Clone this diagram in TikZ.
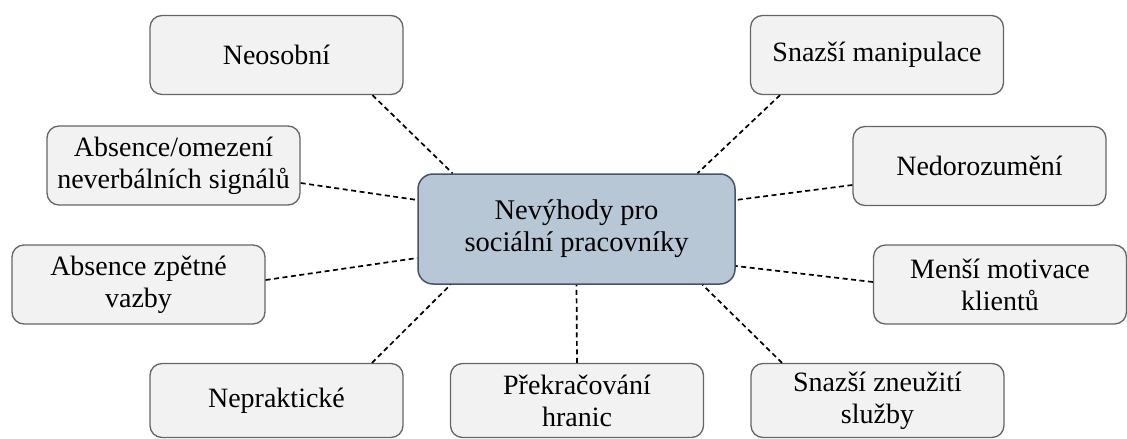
\documentclass[tikz,border=0pt]{standalone}
\usepackage{fontspec}
\setmainfont{Liberation Serif}
\definecolor{hubfill}{HTML}{B8C7D5}
\definecolor{hubline}{HTML}{44546A}
\definecolor{boxfill}{HTML}{F2F2F2}
\definecolor{boxline}{HTML}{666666}
\tikzset{
  box/.style={draw=boxline,fill=boxfill,line width=1.3pt,rounded corners=12pt,
    minimum width=253pt,minimum height=79pt,inner sep=0pt,align=center,
    font=\fontsize{28}{32}\selectfont},
  lowbox/.style={box,minimum height=74pt},
  hub/.style={draw=hubline,fill=hubfill,line width=1.5pt,rounded corners=15pt,
    minimum width=317pt,minimum height=110pt,inner sep=0pt,align=center,
    font=\fontsize{28.5}{32}\selectfont},
  link/.style={line width=1.7pt,dash pattern=on 5pt off 3.5pt}
}
\begin{document}
\begin{tikzpicture}[x=1pt,y=-1pt]
\useasboundingbox (0,0) rectangle (1127,439);
% the central box
\node[hub] (ctr) at (576.5,229) {Nevýhody pro\\sociální pracovníky};
% the boxes round it
\node[box] (neo) at (276.5,55) {Neosobní};
\node[box] (absom) at (173.5,165.5) {Absence/omezení\\neverbálních signálů};
\node[box] (zpet) at (138.5,284.5) {Absence zpětné\\vazby};
\node[lowbox] (neprak) at (276.5,400.5) {Nepraktické};
\node[lowbox] (prek) at (577,400.5) {Překračování\\hranic};
\node[lowbox] (zneuz) at (877.5,400.5) {Snazší zneužití\\služby};
\node[box] (motiv) at (1000,284.5) {Menší motivace\\klientů};
\node[box] (nedor) at (979.5,166) {Nedorozumění};
\node[box] (manip) at (877,55) {Snazší manipulace};
% the dashed links
\draw[link] ([xshift=96pt]neo.south) -- ([xshift=-124pt]ctr.north);
\draw[link] ([yshift=-17.5pt]absom.east) -- ([yshift=29pt]ctr.west);
\draw[link] ([yshift=4.5pt]zpet.east) -- ([yshift=-29pt]ctr.west);
\draw[link] ([xshift=95.5pt]neprak.north) -- ([xshift=-126pt]ctr.south);
\draw[link] (prek.north) -- (ctr.south);
\draw[link] ([xshift=-95.5pt]zneuz.north) -- ([xshift=126pt]ctr.south);
\draw[link] ([yshift=2.5pt]motiv.west) -- ([yshift=-37pt]ctr.east);
\draw[link] ([yshift=-19pt]nedor.west) -- ([yshift=29pt]ctr.east);
\draw[link] ([xshift=-97pt]manip.south) -- ([xshift=121pt]ctr.north);
\end{tikzpicture}
\end{document}
